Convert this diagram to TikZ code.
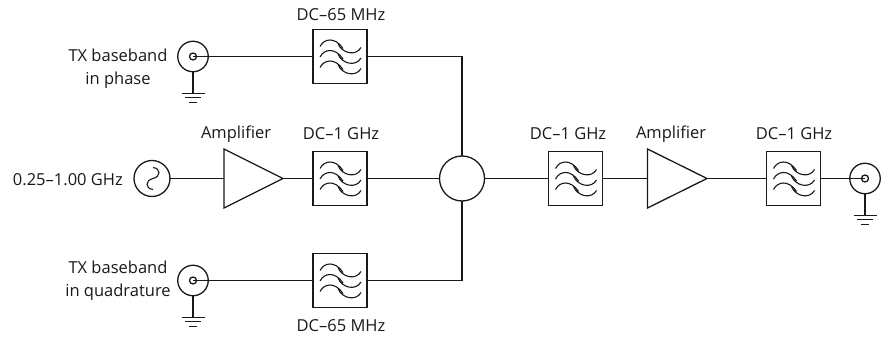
\documentclass[tikz,border=0pt]{standalone}
\usepackage{fontspec}
\setmainfont{Open Sans}
\tikzset{
  x=1pt,y=-1pt,
  wire/.style={line width=1.3pt,black!90},
  filterbox/.style={draw=black!90,line width=1.3pt,minimum size=54pt,inner sep=0pt,outer sep=0pt,fill=white},
  amp/.style={draw=black!90,line width=1.3pt,fill=white},
  disc/.style={circle,draw=black!90,line width=1.3pt,inner sep=0pt,outer sep=0pt,fill=white},
  lab/.style={font=\fontsize{16.5}{23}\selectfont,text=black!90,align=center,inner sep=0pt},
  wave/.style={line width=1.1pt,black!90},
}
\newcommand{\filterglyph}[1]{%
  \foreach \dy in {0,10.5,21}{
    \draw[wave,shift={(#1)},yshift=-\dy pt] (-20,-10) .. controls (-16,-18) and (-5,-20) .. (3,-8);
    \draw[wave,shift={(#1)},yshift=-\dy pt] (-2,-13) .. controls (2,-3) and (16,0) .. (21,-9);
  }}
\newcommand{\groundat}[2]{%
  \coordinate (#2a) at ([yshift=-21.5pt]#1.south);
  \draw[wire] (#1.south) -- (#2a);
  \draw[wire] ([xshift=-11.5pt]#2a) -- ([xshift=11.5pt]#2a);
  \draw[wire] ([xshift=-8pt,yshift=-4.5pt]#2a) -- ([xshift=8pt,yshift=-4.5pt]#2a);
  \draw[wire] ([xshift=-4pt,yshift=-9pt]#2a) -- ([xshift=4pt,yshift=-9pt]#2a);
}
\begin{document}
\begin{tikzpicture}
\useasboundingbox (0,0) rectangle (889,339);
% filters
\node[filterbox] (f1) at (340,56.5) {};
\node[filterbox] (f2) at (340,178.5) {};
\node[filterbox] (f3) at (340,280.5) {};
\node[filterbox] (f4) at (575.5,178.5) {};
\node[filterbox] (f5) at (793.5,178.5) {};
\foreach \n in {f1,f2,f3,f4,f5}{\filterglyph{\n}}
% mixer
\node[disc,minimum size=45pt] (mix) at (462,178.5) {};
% amplifiers
\coordinate (a1in) at (224,178.5); \coordinate (a1out) at (283,178.5);
\coordinate (a2in) at (647.5,178.5); \coordinate (a2out) at (707,178.5);
\draw[amp] (224,149) -- (a1out) -- (224,208) -- cycle;
\draw[amp] (647.5,149) -- (a2out) -- (647.5,208) -- cycle;
% connectors
\node[disc,minimum size=30.5pt] (c1) at (193,56.5) {};
\node[disc,minimum size=30.5pt] (c2) at (193,280.5) {};
\node[disc,minimum size=30.5pt] (c3) at (865,178.5) {};
\foreach \n in {c1,c2,c3}{\node[disc,minimum size=7pt] (\n i) at (\n) {};}
% generator
\node[disc,minimum size=36pt] (gen) at (152,178.5) {};
\draw[wave,shift={(gen)}] (1,-11) .. controls (9,-10) and (9,-2) .. (1,0) .. controls (-7,2) and (-7,10) .. (1,11);
% wires
\coordinate (t) at (mix.north|-f1); \coordinate (b) at (mix.south|-f3);
\draw[wire] (c1i.center) -- (f1.west);
\draw[wire] (c2i.center) -- (f3.west);
\draw[wire] (c3i.center) -- (f5.east);
\draw[wire] (f1.east) -- (t) -- (mix.north);
\draw[wire] (f3.east) -- (b) -- (mix.south);
\draw[wire] (gen.east) -- (a1in);
\draw[wire] (a1out) -- (f2.west);
\draw[wire] (f2.east) -- (mix.west);
\draw[wire] (mix.east) -- (f4.west);
\draw[wire] (f4.east) -- (a2in);
\draw[wire] (a2out) -- (f5.west);
\groundat{c1}{g1}
\groundat{c2}{g2}
\groundat{c3}{g3}
% labels
\node[lab] (l1) at (341,15) {DC–65 MHz};
\node[lab] (l2) at (341,134) {DC–1 GHz};
\node[lab] (l3) at (341,326) {DC–65 MHz};
\node[lab] (l4) at (568,134) {DC–1 GHz};
\node[lab] (l5) at (794,134) {DC–1 GHz};
\node[lab] (l6) at (236,134) {Amplifier};
\node[lab] (l7) at (671,134) {Amplifier};
\node[lab] (l8) at (118,68.5) {TX baseband\\in phase};
\node[lab] (l9) at (118,280.5) {TX baseband\\in quadrature};
\node[lab,anchor=east] (l10) at (123,180) {0.25–1.00 GHz};
\end{tikzpicture}
\end{document}
